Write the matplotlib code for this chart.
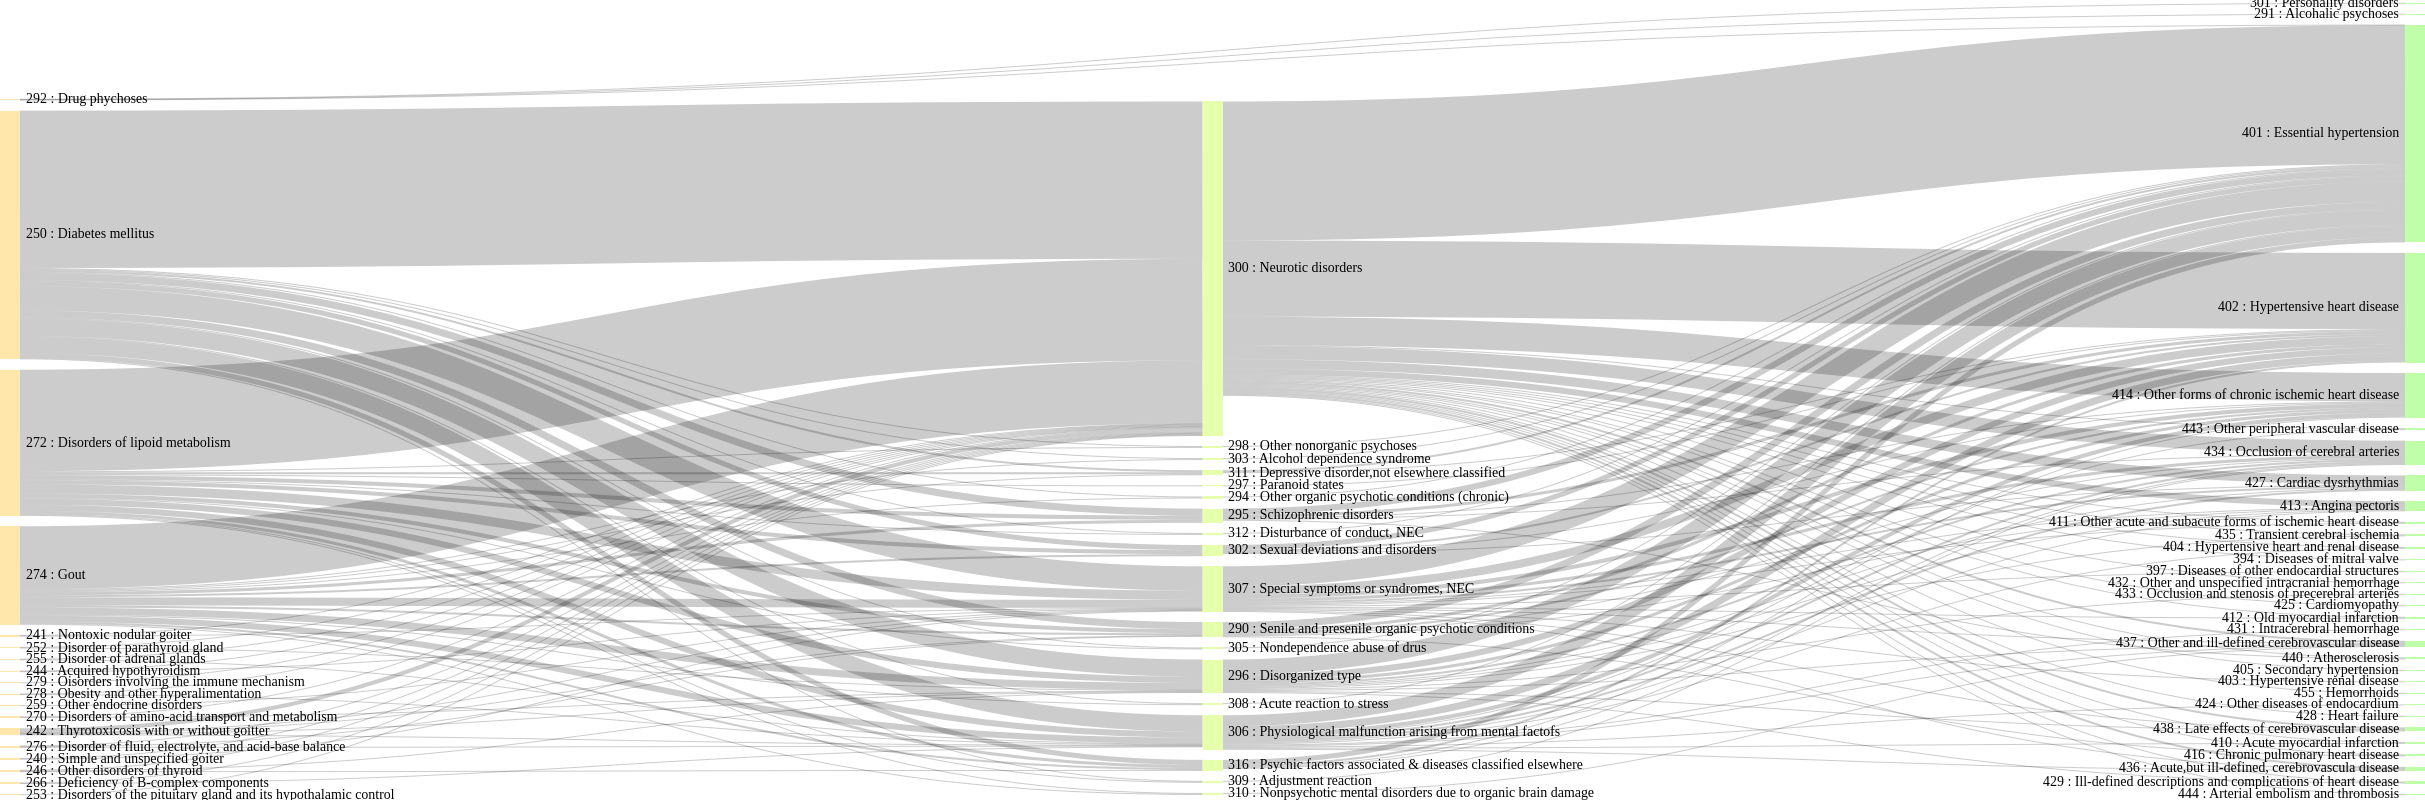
import matplotlib
matplotlib.use("Agg")
import matplotlib.pyplot as plt
from matplotlib.path import Path
from matplotlib.patches import PathPatch, Rectangle

# ---------------- data ----------------
left_nodes = ["292", "250", "272", "274", "241", "252", "255", "244", "279", "278",
              "259", "270", "242", "276", "240", "246", "266", "253"]
middle_nodes = ["300", "298", "303", "311", "297", "294", "295", "312", "302", "307",
                "290", "305", "296", "308", "306", "316", "309", "310"]
right_nodes = ["301", "291", "401", "402", "414", "443", "434", "427", "413", "411",
               "435", "404", "394", "397", "432", "433", "425", "412", "431", "437",
               "440", "405", "403", "455", "424", "428", "438", "410", "416", "436",
               "429", "444"]

node_names = {
    "292": "Drug phychoses", "250": "Diabetes mellitus", "272": "Disorders of lipoid metabolism",
    "274": "Gout", "241": "Nontoxic nodular goiter", "252": "Disorder of parathyroid gland",
    "255": "Disorder of adrenal glands", "244": "Acquired hypothyroidism",
    "279": "Oisorders involving the immune mechanism", "278": "Obesity and other hyperalimentation",
    "259": "Other endocrine disorders", "270": "Disorders of amino-acid transport and metabolism",
    "242": "Thyrotoxicosis with or without goitter",
    "276": "Disorder of fluid, electrolyte, and acid-base balance",
    "240": "Simple and unspecified goiter", "246": "Other disorders of thyroid",
    "266": "Deficiency of B-complex components",
    "253": "Disorders of the pituitary gland and its hypothalamic control",
    "300": "Neurotic disorders", "298": "Other nonorganic psychoses",
    "303": "Alcohol dependence syndrome", "311": "Depressive disorder,not elsewhere classified",
    "297": "Paranoid states", "294": "Other organic psychotic conditions (chronic)",
    "295": "Schizophrenic disorders", "312": "Disturbance of conduct, NEC",
    "302": "Sexual deviations and disorders", "307": "Special symptoms or syndromes, NEC",
    "290": "Senile and presenile organic psychotic conditions",
    "305": "Nondependence abuse of drus", "296": "Disorganized type",
    "308": "Acute reaction to stress", "306": "Physiological malfunction arising from mental factofs",
    "316": "Psychic factors associated & diseases classified elsewhere",
    "309": "Adjustment reaction", "310": "Nonpsychotic mental disorders due to organic brain damage",
    "301": "Personality disorders", "291": "Alcohalic psychoses", "401": "Essential hypertension",
    "402": "Hypertensive heart disease", "414": "Other forms of chronic ischemic heart disease",
    "443": "Other peripheral vascular disease", "434": "Occlusion of cerebral arteries",
    "427": "Cardiac dysrhythmias", "413": "Angina pectoris",
    "411": "Other acute and subacute forms of ischemic heart disease",
    "435": "Transient cerebral ischemia", "404": "Hypertensive heart and renal disease",
    "394": "Diseases of mitral valve", "397": "Diseases of other endocardial structures",
    "432": "Other and unspecified intracranial hemorrhage",
    "433": "Occlusion and stenosis of precerebral arteries", "425": "Cardiomyopathy",
    "412": "Old myocardial infarction", "431": "Intracerebral hemorrhage",
    "437": "Other and ill-defined cerebrovascular disease", "440": "Atherosclerosis",
    "405": "Secondary hypertension", "403": "Hypertensive renal disease", "455": "Hemorrhoids",
    "424": "Other diseases of endocardium", "428": "Heart failure",
    "438": "Late effects of cerebrovascular disease", "410": "Acute myocardial infarction",
    "416": "Chronic pulmonary heart disease", "436": "Acute,but ill-defined, cerebrovascula disease",
    "429": "Ill-defined descriptions and complications of heart disease",
    "444": "Arterial embolism and thrombosis",
}

# left -> middle
links_left_middle = [
    ("250", "300", 155), ("272", "300", 100), ("274", "300", 62),
    ("250", "298", 1), ("272", "298", 1),
    ("250", "303", 1), ("274", "303", 1),
    ("250", "311", 2), ("272", "311", 2), ("274", "311", 1),
    ("272", "297", 1),
    ("250", "294", 1), ("274", "294", 1),
    ("250", "295", 7), ("272", "295", 4), ("274", "295", 3),
    ("250", "312", 1), ("272", "312", 1),
    ("250", "302", 5), ("272", "302", 4), ("274", "302", 2),
    ("250", "307", 24), ("272", "307", 9), ("274", "307", 8),
    ("250", "290", 7), ("272", "290", 4), ("274", "290", 2),
    ("250", "305", 1), ("272", "305", 1),
    ("250", "296", 17), ("272", "296", 6), ("274", "296", 7),
    ("250", "308", 1), ("274", "308", 1),
    ("250", "306", 16), ("272", "306", 6), ("274", "306", 6),
    ("250", "316", 5), ("272", "316", 3), ("274", "316", 2),
    ("250", "309", 1), ("272", "309", 1),
    ("272", "310", 1), ("274", "310", 1),
    ("241", "300", 0.7), ("241", "307", 0.7),
    ("252", "300", 0.7), ("252", "296", 0.7),
    ("255", "300", 0.7), ("255", "306", 0.7),
    ("244", "300", 0.7), ("244", "307", 0.7),
    ("279", "300", 0.7),
    ("278", "300", 0.7), ("278", "306", 0.7),
    ("259", "307", 0.7),
    ("270", "300", 0.7), ("270", "296", 0.7),
    ("242", "300", 4), ("242", "307", 0.7), ("242", "306", 0.7), ("242", "296", 0.7),
    ("242", "290", 0.7),
    ("276", "300", 0.7), ("276", "290", 0.7), ("276", "306", 0.7),
    ("240", "300", 0.7), ("240", "307", 0.7),
    ("246", "300", 0.7), ("246", "296", 0.7), ("246", "316", 0.7),
    ("266", "300", 0.7), ("266", "306", 0.7),
    ("253", "300", 0.7),
]

# left -> right (sink nodes pushed to last column)
links_left_right = [("292", "301", 0.4), ("292", "291", 0.4), ("292", "401", 0.4)]

# middle -> right
links_middle_right = [
    ("300", "401", 137), ("307", "401", 20), ("296", "401", 15), ("306", "401", 11),
    ("295", "401", 6), ("290", "401", 7), ("302", "401", 5), ("316", "401", 5),
    ("311", "401", 2), ("298", "401", 1), ("303", "401", 1), ("294", "401", 1),
    ("312", "401", 1), ("305", "401", 1), ("308", "401", 1),
    ("300", "402", 75), ("307", "402", 8), ("296", "402", 6), ("306", "402", 7),
    ("290", "402", 3), ("295", "402", 3), ("302", "402", 2), ("316", "402", 2),
    ("311", "402", 1), ("297", "402", 1),
    ("300", "414", 28), ("307", "414", 4), ("296", "414", 3), ("306", "414", 4),
    ("290", "414", 2), ("295", "414", 1), ("302", "414", 1), ("316", "414", 1),
    ("300", "443", 1), ("306", "443", 1),
    ("300", "434", 13), ("307", "434", 3), ("296", "434", 2), ("306", "434", 2),
    ("290", "434", 1), ("295", "434", 1), ("316", "434", 1), ("309", "434", 1),
    ("300", "427", 9), ("307", "427", 2), ("296", "427", 1), ("306", "427", 2), ("302", "427", 1),
    ("300", "413", 6), ("307", "413", 1), ("296", "413", 1), ("306", "413", 1), ("290", "413", 1),
    ("300", "411", 1), ("307", "411", 1),
    ("300", "435", 1), ("296", "435", 1),
    ("300", "404", 1), ("306", "404", 1),
    ("300", "394", 1), ("307", "397", 1), ("300", "432", 1), ("296", "433", 1),
    ("300", "425", 1),
    ("300", "412", 1), ("307", "412", 1),
    ("306", "431", 1),
    ("300", "437", 2), ("307", "437", 1), ("296", "437", 1), ("306", "437", 1), ("310", "437", 1),
    ("300", "440", 1), ("295", "440", 1),
    ("300", "405", 1), ("307", "403", 1), ("300", "455", 1), ("306", "424", 1), ("300", "428", 1),
    ("300", "438", 2), ("296", "438", 1), ("307", "438", 1),
    ("300", "410", 1), ("306", "410", 1),
    ("300", "416", 1), ("290", "416", 1),
    ("300", "436", 2), ("306", "436", 1), ("307", "436", 1),
    ("300", "429", 1), ("296", "429", 1),
    ("300", "444", 1),
]

# ---------------- layout ----------------
W, H, DPI = 2425, 800, 100
NODE_W = 20
K = 1.015                      # pixels per unit of value
PADS = [10.4, 10.1, 10.48]     # node padding per column
BOTTOM = 795
columns = [left_nodes, middle_nodes, right_nodes]
col_colors = ["#ffe6aa", "#e6ffaa", "#c0ffaa"]
col_x = [0, (W - NODE_W) / 2, W - NODE_W]

links = links_left_middle + links_left_right + links_middle_right
in_sum, out_sum = {}, {}
for s, t, v in links:
    out_sum[s] = out_sum.get(s, 0) + v
    in_sum[t] = in_sum.get(t, 0) + v
value = {n: max(in_sum.get(n, 0), out_sum.get(n, 0)) for col in columns for n in col}

node_x, node_y0, node_y1, node_col = {}, {}, {}, {}
for ci, col in enumerate(columns):
    y = BOTTOM
    for n in reversed(col):
        h = value[n] * K
        node_y1[n] = y
        node_y0[n] = y - h
        node_x[n] = col_x[ci]
        node_col[n] = ci
        y = y - h - PADS[ci]

# link y positions
src_y, tgt_y = {}, {}
for n in node_x:
    outs = sorted([i for i, l in enumerate(links) if l[0] == n], key=lambda i: node_y0[links[i][1]])
    yy = node_y0[n]
    for i in outs:
        w = links[i][2] * K
        src_y[i] = yy + w / 2
        yy += w
    ins = sorted([i for i, l in enumerate(links) if l[1] == n], key=lambda i: node_y0[links[i][0]])
    yy = node_y0[n]
    for i in ins:
        w = links[i][2] * K
        tgt_y[i] = yy + w / 2
        yy += w

# ---------------- drawing ----------------
fig = plt.figure(figsize=(W / DPI, H / DPI), dpi=DPI)
ax = fig.add_axes([0, 0, 1, 1])
ax.set_xlim(0, W)
ax.set_ylim(H, 0)
ax.axis("off")

px2pt = 72.0 / DPI
for i, (s, t, v) in enumerate(links):
    xs = node_x[s] + NODE_W
    xt = node_x[t]
    xm = (xs + xt) / 2
    verts = [(xs, src_y[i]), (xm, src_y[i]), (xm, tgt_y[i]), (xt, tgt_y[i])]
    codes = [Path.MOVETO, Path.CURVE4, Path.CURVE4, Path.CURVE4]
    lw = max(1.0, v * K) * px2pt
    ax.add_patch(PathPatch(Path(verts, codes), facecolor="none",
                           edgecolor=(0, 0, 0, 0.2), lw=lw, capstyle="butt"))

for n in node_x:
    h = max(1.0, node_y1[n] - node_y0[n])
    ax.add_patch(Rectangle((node_x[n], node_y0[n]), NODE_W, h,
                           facecolor=col_colors[node_col[n]], edgecolor="none"))

for n in node_x:
    yc = (node_y0[n] + node_y1[n]) / 2
    label = f"{n} : {node_names[n]}"
    if node_col[n] == 2:
        ax.text(node_x[n] - 6, yc, label, ha="right", va="center",
                fontsize=10, family="Liberation Serif", color="#000000")
    else:
        ax.text(node_x[n] + NODE_W + 6, yc, label, ha="left", va="center",
                fontsize=10, family="Liberation Serif", color="#000000")

fig.savefig("out.png", dpi=DPI)
